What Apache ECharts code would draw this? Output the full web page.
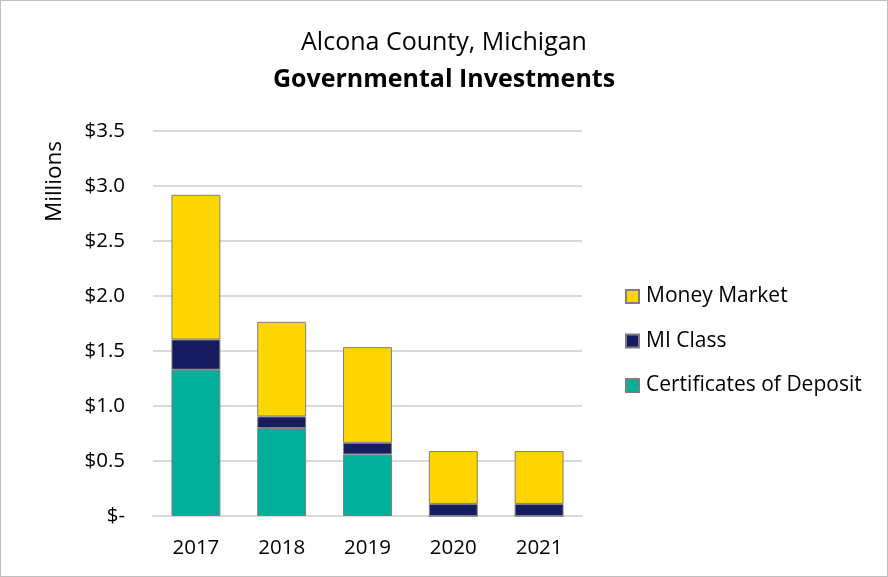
<!DOCTYPE html>
<html>
<head>
<meta charset="utf-8">
<script src="https://cdn.jsdelivr.net/npm/echarts@6/dist/echarts.min.js"></script>
<style>
html,body{margin:0;padding:0;background:#fff;}
#c{width:888px;height:577px;box-sizing:border-box;border:1px solid #bfbfbf;}
</style>
</head>
<body>
<div id="c"></div>
<script>
const years = ['2017', '2018', '2019', '2020', '2021'];
const certificatesOfDeposit = [1.33, 0.80, 0.56, 0, 0];
const miClass = [0.275, 0.105, 0.105, 0.11, 0.11];
const moneyMarket = [1.315, 0.86, 0.87, 0.48, 0.48];
const yTicks = [0, 0.5, 1.0, 1.5, 2.0, 2.5, 3.0, 3.5];

const FONT = '"Open Sans", "Liberation Sans", sans-serif';
const chart = echarts.init(document.getElementById('c'));
const barStyle = (color) => ({ color: color, borderColor: '#7f7f7f', borderWidth: 1 });

chart.setOption({
  animation: false,
  textStyle: { fontFamily: FONT },
  title: [
    { text: 'Alcona County, Michigan', left: 'center', top: 24,
      textStyle: { fontFamily: FONT, fontSize: 25, fontWeight: 'normal', color: '#000' } },
    { text: 'Governmental Investments', left: 'center', top: 61,
      textStyle: { fontFamily: FONT, fontSize: 25, fontWeight: 'bold', color: '#000' } }
  ],
  graphic: [{
    type: 'text', left: 42, top: 140, rotation: Math.PI / 2,
    style: { text: 'Millions', fontFamily: FONT, fontSize: 22.5, fill: '#000' }
  }],
  legend: {
    orient: 'vertical', left: 619, top: 280, itemGap: 23.5,
    itemWidth: 13, itemHeight: 13, icon: 'rect',
    data: ['Money Market', 'MI Class', 'Certificates of Deposit'],
    textStyle: { fontFamily: FONT, fontSize: 21, color: '#000', padding: [0, 0, 0, 2] }
  },
  grid: { left: 152, right: 305, top: 130, bottom: 60, containLabel: false },
  xAxis: {
    type: 'category', data: years,
    axisLine: { lineStyle: { color: '#d9d9d9', width: 2 } },
    axisTick: { show: false },
    axisLabel: { fontFamily: FONT, fontSize: 20.5, color: '#000', margin: 22 }
  },
  yAxis: {
    type: 'value', min: 0, max: 3.5, interval: 0.5,
    axisLine: { show: false }, axisTick: { show: false },
    splitLine: { lineStyle: { color: '#d9d9d9', width: 2 } },
    axisLabel: {
      fontFamily: FONT, fontSize: 20.5, color: '#000', margin: 28,
      formatter: (v) => {
        const t = yTicks.find(x => Math.abs(x - v) < 1e-9);
        return t === 0 ? '$-' : '$' + v.toFixed(1);
      }
    }
  },
  series: [
    { name: 'Certificates of Deposit', type: 'bar', stack: 'a', data: certificatesOfDeposit,
      barCategoryGap: '43%', itemStyle: barStyle('#00B09B') },
    { name: 'MI Class', type: 'bar', stack: 'a', data: miClass, itemStyle: barStyle('#171C61') },
    { name: 'Money Market', type: 'bar', stack: 'a', data: moneyMarket, itemStyle: barStyle('#FFD600') }
  ]
});
</script>
</body>
</html>
